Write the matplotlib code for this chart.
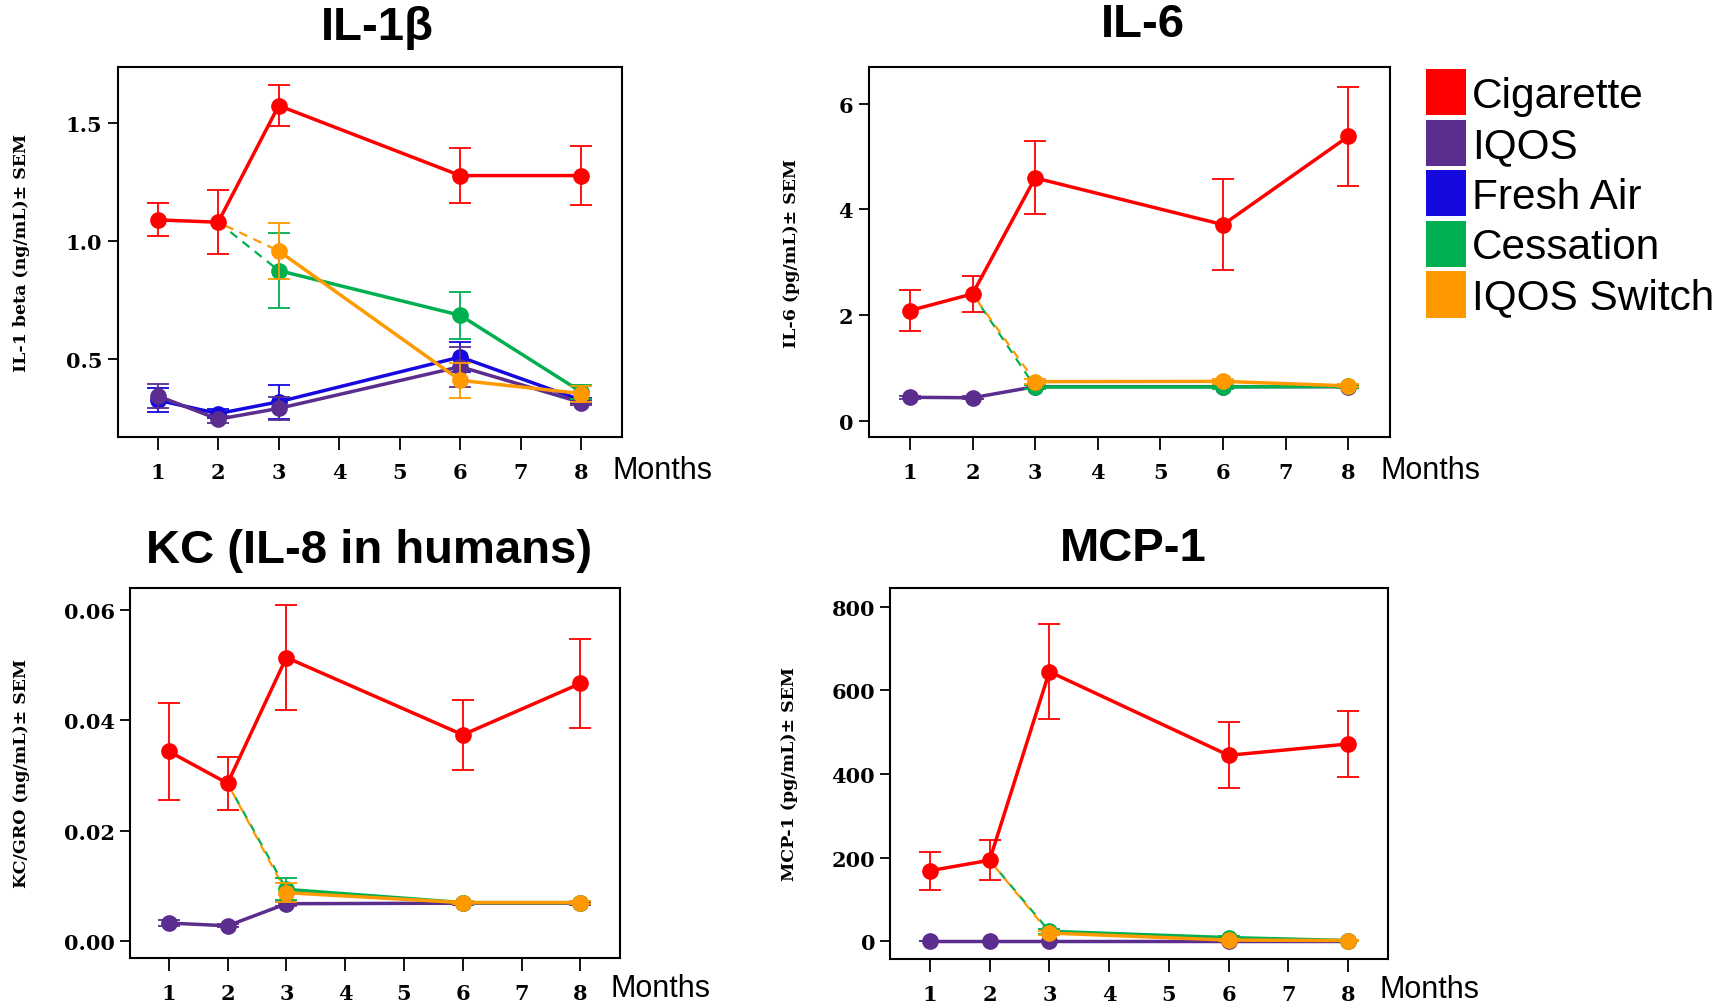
import numpy as np
import matplotlib.pyplot as plt
from matplotlib.patches import Patch

plt.rcParams['font.family'] = 'DejaVu Serif'
plt.rcParams['font.weight'] = 'bold'

months = [1, 2, 3, 6, 8]
switch_months = [3, 6, 8]
group_names = ['Cigarette', 'IQOS', 'Fresh Air', 'Cessation', 'IQOS Switch']

# IL-1 beta (ng/mL)
il1b_cig = [1.09, 1.08, 1.575, 1.278, 1.278]
il1b_cig_err = [0.07, 0.135, 0.087, 0.115, 0.127]
il1b_iqos = [0.343, 0.244, 0.29, 0.467, 0.315]
il1b_iqos_err = [0.052, 0.015, 0.05, 0.085, 0.01]
il1b_air = [0.325, 0.268, 0.318, 0.508, 0.325]
il1b_air_err = [0.052, 0.02, 0.072, 0.065, 0.01]
il1b_ces = [0.875, 0.685, 0.36]
il1b_ces_err = [0.159, 0.099, 0.03]
il1b_sw = [0.958, 0.409, 0.353]
il1b_sw_err = [0.117, 0.074, 0.034]

# IL-6 (pg/mL)
il6_cig = [2.085, 2.40, 4.595, 3.71, 5.38]
il6_cig_err = [0.39, 0.34, 0.69, 0.86, 0.94]
il6_iqos = [0.444, 0.435, 0.645, 0.645, 0.645]
il6_iqos_err = [0.03, 0.03, 0.03, 0.03, 0.03]
il6_ces = [0.64, 0.64, 0.65]
il6_ces_err = [0.03, 0.03, 0.03]
il6_sw = [0.74, 0.745, 0.66]
il6_sw_err = [0.05, 0.05, 0.03]

# KC/GRO (ng/mL)
kc_cig = [0.0344, 0.0286, 0.0514, 0.0374, 0.0467]
kc_cig_err = [0.0088, 0.0048, 0.0095, 0.0063, 0.008]
kc_iqos = [0.0033, 0.0028, 0.0068, 0.0069, 0.0069]
kc_iqos_err = [0.0005, 0.0003, 0.0004, 0.0003, 0.0003]
kc_ces = [0.0094, 0.007, 0.007]
kc_ces_err = [0.002, 0.0003, 0.0003]
kc_sw = [0.0088, 0.007, 0.007]
kc_sw_err = [0.0017, 0.0003, 0.0003]

# MCP-1 (pg/mL)
mcp_cig = [169, 194, 645, 445, 472]
mcp_cig_err = [45, 48, 114, 79, 80]
mcp_iqos = [1, 1, 1, 1, 1]
mcp_iqos_err = [1, 1, 1, 1, 1]
mcp_ces = [24, 9, 2]
mcp_ces_err = [6, 3, 1]
mcp_sw = [20, 3, 2]
mcp_sw_err = [5, 2, 1]

red = '#ff0000'
purple = '#5b2d8e'
blue = '#1509e0'
green = '#00b050'
orange = '#ff9900'


def draw_group(ax, x, y, err, color, z):
	ax.errorbar(x, y, yerr=err, color=color, lw=2.5, marker='o', markersize=11,
		elinewidth=1.3, capsize=8, capthick=1.3, zorder=z)


def plot_panel(ax, cig, cig_err, iqos, iqos_err, ces, ces_err, sw, sw_err,
		air=None, air_err=None, months_y=-0.088):
	if air is not None:
		draw_group(ax, months, air, air_err, blue, 2)
	draw_group(ax, months, iqos, iqos_err, purple, 3)
	# dashed link from the month 2 cigarette point to the switch groups
	ax.plot([2, 3], [cig[1], ces[0]], color=green, lw=1.6, ls=(0, (4, 3)), zorder=4)
	ax.plot([2, 3], [cig[1], sw[0]], color=orange, lw=1.6, ls=(3.5, (4, 3)), zorder=4)
	draw_group(ax, switch_months, ces, ces_err, green, 5)
	draw_group(ax, switch_months, sw, sw_err, orange, 6)
	draw_group(ax, months, cig, cig_err, red, 7)

	ax.set_xlim(0.34, 8.67)
	ax.set_xticks(np.arange(1, 9))
	ax.tick_params(axis='x', direction='out', length=9, width=1.3, pad=9, labelsize=15)
	ax.tick_params(axis='y', direction='out', length=7, width=1.3, pad=4, labelsize=15)
	for s in ax.spines.values():
		s.set_linewidth(1.5)
	ax.text(0.982, months_y, 'Months', transform=ax.transAxes, ha='left', va='center',
		fontsize=22, family='Liberation Sans', weight='normal')


fig = plt.figure(figsize=(17.26, 10.04), dpi=100)

label_kw = dict(fontsize=12.5, fontweight='bold')

ax1 = fig.add_axes([0.0682, 0.5636, 0.2921, 0.3685])
plot_panel(ax1, il1b_cig, il1b_cig_err, il1b_iqos, il1b_iqos_err, il1b_ces, il1b_ces_err,
	il1b_sw, il1b_sw_err, il1b_air, il1b_air_err)
ax1.set_ylim(0.168, 1.738)
ax1.set_yticks([0.5, 1.0, 1.5])
ax1.set_yticklabels(['0.5', '1.0', '1.5'])
ax1.set_ylabel('IL-1 beta (ng/mL)± SEM', **label_kw)
ax1.yaxis.set_label_coords(-0.174, 0.5)

ax2 = fig.add_axes([0.5032, 0.5636, 0.3023, 0.3685])
plot_panel(ax2, il6_cig, il6_cig_err, il6_iqos, il6_iqos_err, il6_ces, il6_ces_err,
	il6_sw, il6_sw_err)
ax2.set_ylim(-0.31, 6.69)
ax2.set_yticks([0, 2, 4, 6])
ax2.set_ylabel('IL-6 (pg/mL)± SEM', **label_kw)
ax2.yaxis.set_label_coords(-0.131, 0.5)

ax3 = fig.add_axes([0.0753, 0.045, 0.2838, 0.3684])
plot_panel(ax3, kc_cig, kc_cig_err, kc_iqos, kc_iqos_err, kc_ces, kc_ces_err,
	kc_sw, kc_sw_err, months_y=-0.082)
ax3.set_ylim(-0.003, 0.064)
ax3.set_yticks([0.0, 0.02, 0.04, 0.06])
ax3.set_yticklabels(['0.00', '0.02', '0.04', '0.06'])
ax3.set_ylabel('KC/GRO (ng/mL)± SEM', **label_kw)
ax3.yaxis.set_label_coords(-0.204, 0.5)

ax4 = fig.add_axes([0.5159, 0.0439, 0.2883, 0.3694])
plot_panel(ax4, mcp_cig, mcp_cig_err, mcp_iqos, mcp_iqos_err, mcp_ces, mcp_ces_err,
	mcp_sw, mcp_sw_err, months_y=-0.08)
ax4.set_ylim(-42, 845)
ax4.set_yticks([0, 200, 400, 600, 800])
ax4.set_ylabel('MCP-1 (pg/mL)± SEM', **label_kw)
ax4.yaxis.set_label_coords(-0.186, 0.5)

# panel titles
title_kw = dict(ha='center', va='center', fontsize=34, family='Liberation Sans', weight='bold')
fig.text(377.6 / 1726, 1 - 28 / 1004, 'IL-1β', **title_kw)
fig.text(1142.6 / 1726, 1 - 25 / 1004, 'IL-6', **title_kw)
fig.text(368.8 / 1726, 1 - 551 / 1004, 'KC (IL-8 in humans)', **title_kw)
fig.text(1133.8 / 1726, 1 - 549 / 1004, 'MCP-1', **title_kw)

handles = [Patch(facecolor=c, edgecolor='none') for c in [red, purple, blue, green, orange]]
fig.legend(handles, group_names, loc='upper left', bbox_to_anchor=(0.826, 0.93),
	frameon=False, borderpad=0, borderaxespad=0, handlelength=0.95, handleheight=1.3,
	handletextpad=0.15, labelspacing=0.1,
	prop={'family': 'Liberation Sans', 'weight': 'normal', 'size': 30.5})

fig.savefig('out.png', dpi=100)
